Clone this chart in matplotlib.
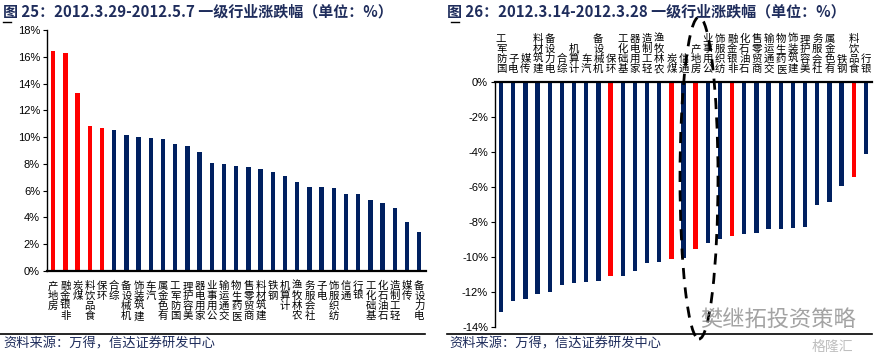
import matplotlib
matplotlib.use('Agg')
from matplotlib import pyplot as plt
from matplotlib.patches import Ellipse
from matplotlib.lines import Line2D
from matplotlib.ticker import FuncFormatter

plt.rcParams['font.family'] = ['Liberation Sans', 'Noto Sans CJK SC', 'DejaVu Sans']
plt.rcParams['axes.unicode_minus'] = True

# 图25: 2012.3.29-2012.5.7
left_names = ['房地产', '非银金融', '煤炭', '食品饮料', '环保', '综合', '机械设备', '建筑装饰',
              '汽车', '有色金属', '国防军工', '美容护理', '家用电器', '公用事业', '交通运输',
              '医药生物', '商贸零售', '建筑材料', '钢铁', '计算机', '农林牧渔', '社会服务',
              '电子', '纺织服饰', '通信', '银行', '基础化工', '石油石化', '轻工制造', '传媒', '电力设备']
left_values = [16.4, 16.3, 13.3, 10.85, 10.65, 10.5, 10.15, 10.0, 9.95, 9.85, 9.45, 9.35,
               8.9, 8.1, 8.0, 7.85, 7.75, 7.6, 7.4, 7.1, 6.65, 6.28, 6.28, 6.2, 5.78, 5.72,
               5.32, 5.08, 4.7, 3.68, 2.88]

# 图26: 2012.3.14-2012.3.28
right_names = ['国防军工', '电子', '传媒', '建筑材料', '电力设备', '综合', '计算机', '汽车',
               '机械设备', '环保', '基础化工', '家用电器', '轻工制造', '农林牧渔', '煤炭', '通信',
               '房地产', '公用事业', '纺织服饰', '非银金融', '石油石化', '商贸零售', '交通运输',
               '医药生物', '建筑装饰', '美容护理', '社会服务', '有色金属', '钢铁', '食品饮料', '银行']
right_values = [-13.15, -12.5, -12.4, -12.1, -12.0, -11.6, -11.5, -11.45, -11.4, -11.1, -11.1,
                -10.8, -10.35, -10.3, -10.13, -10.05, -9.56, -9.2, -9.0, -8.78, -8.69, -8.65,
                -8.42, -8.4, -8.32, -8.27, -7.0, -6.88, -5.92, -5.45, -4.1]

highlight = ['房地产', '非银金融', '煤炭', '食品饮料', '环保']

RED = '#FF0000'
NAVY = '#002060'
TITLE_C = '#1F2D5C'

W, H = 882, 361
fig = plt.figure(figsize=(W / 100, H / 100), dpi=100)


def px(x, y):
    # pixel coords (top-left origin) -> figure fraction
    return x / W, 1 - y / H


def stack(name):
    # 竖排标签: 从下往上读, 字符保持正立
    return '\n'.join(reversed(name))


pct = FuncFormatter(lambda v, p: '%d%%' % round(v))
cjk = ['Noto Sans CJK SC', 'DejaVu Sans']

# ---- 左图 ----
ax1 = fig.add_axes([47 / W, 1 - 271 / H, (426 - 47) / W, (271 - 30) / H])
colors1 = [RED if n in highlight else NAVY for n in left_names]
ax1.bar(range(len(left_names)), left_values, width=0.36, color=colors1)
ax1.set_xlim(-0.5, len(left_names) - 0.45)
ax1.set_ylim(0, 18)
ax1.set_yticks(range(0, 19, 2))
ax1.yaxis.set_major_formatter(pct)
ax1.set_xticks(range(len(left_names)))
ax1.set_xticklabels([stack(n) for n in left_names], fontsize=7.5, linespacing=1.0,
                    family=cjk, va='top')
ax1.tick_params(axis='x', length=0, pad=7)
ax1.tick_params(axis='y', length=3, width=0.8, labelsize=8, pad=2, direction='out')
ax1.spines['top'].set_visible(False)
ax1.spines['right'].set_visible(False)
ax1.spines['bottom'].set_linewidth(1.6)
ax1.spines['left'].set_linewidth(1.0)

# ---- 右图 ----
ax2 = fig.add_axes([495 / W, 1 - 326.7 / H, (872 - 495) / W, (326.7 - 82.3) / H])
colors2 = [RED if n in highlight else NAVY for n in right_names]
ax2.bar(range(len(right_names)), right_values, width=0.36, color=colors2)
ax2.set_xlim(-0.5, len(right_names) - 0.5)
ax2.set_ylim(-14, 0)
ax2.set_yticks(range(-14, 1, 2))
ax2.yaxis.set_major_formatter(pct)
ax2.xaxis.set_ticks_position('top')
ax2.set_xticks(range(len(right_names)))
ax2.set_xticklabels([stack(n) for n in right_names], fontsize=7.5, linespacing=1.0,
                    family=cjk, va='bottom')
ax2.tick_params(axis='x', length=0, pad=6)
ax2.tick_params(axis='y', length=3, width=0.8, labelsize=8, pad=2, direction='out')
ax2.spines['bottom'].set_visible(False)
ax2.spines['right'].set_visible(False)
ax2.spines['top'].set_linewidth(1.6)
ax2.spines['left'].set_linewidth(1.0)

# ---- 标题 ----
x, y = px(3, 12)
fig.text(x, y, '图 25：2012.3.29-2012.5.7 一级行业涨跌幅（单位：%）', fontsize=10.8,
         fontweight='bold', color=TITLE_C, va='center', ha='left', family=cjk)
x, y = px(447, 12)
fig.text(x, y, '图 26：2012.3.14-2012.3.28 一级行业涨跌幅（单位：%）', fontsize=10.8,
         fontweight='bold', color=TITLE_C, va='center', ha='left', family=cjk)
for x0 in (3, 451):
    fig.add_artist(Line2D([x0 / W, (x0 + 8) / W], [1 - 22 / H] * 2, color='black', lw=1))

# ---- 底部线和资料来源 ----
fig.add_artist(Line2D([0, 425 / W], [1 - 334 / H] * 2, color='black', lw=1.2))
fig.add_artist(Line2D([447 / W, 872 / W], [1 - 334 / H] * 2, color='black', lw=1.2))
for x0 in (3, 449):
    x, y = px(x0, 344)
    fig.text(x, y, '资料来源：万得，信达证券研发中心', fontsize=9.5, style='italic',
             color='#1F2D5C', va='center', ha='left', family=cjk)

# ---- 虚线圈 ----
cx, cy = px(699, 178)
ell = Ellipse((cx, cy), 38 / W, 322 / H, angle=0, transform=fig.transFigure,
              fill=False, ec='black', lw=2.0, ls=(0, (4, 3)))
fig.add_artist(ell)

# ---- 水印 ----
x, y = px(700, 320)
fig.text(x, y, '樊继拓投资策略', fontsize=16, color='#8C8C8C', va='center', ha='left',
         family=cjk, alpha=0.8)
x, y = px(812, 347)
fig.text(x, y, '格隆汇', fontsize=10, color='#BFBFBF', va='center', ha='left', family=cjk)

fig.savefig('out.png', dpi=100)
